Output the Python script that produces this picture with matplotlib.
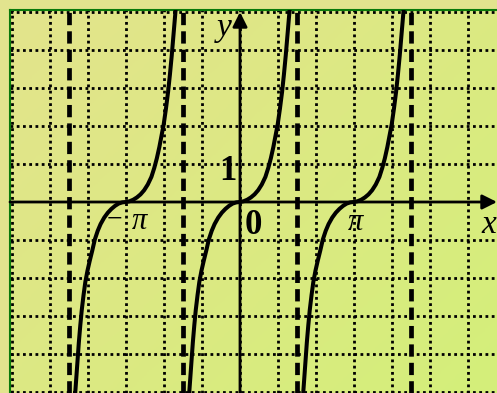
import numpy as np
import matplotlib
matplotlib.use("Agg")
import matplotlib.pyplot as plt
from matplotlib.colors import LinearSegmentedColormap

PI = np.pi

# branches of the curve: centre of each branch and the shape
branch_centers = [-PI, 0.0, PI]
x_offsets = [-1.42, -1.39, -1.36, -1.33, -1.30, -1.26, -1.22, -1.17, -1.12, -1.06,
             -1.00, -0.93, -0.86, -0.78, -0.70, -0.60, -0.50, -0.40, -0.30, -0.20,
             -0.10, 0.00,
             0.10, 0.20, 0.30, 0.40, 0.50, 0.60, 0.70, 0.78, 0.85, 0.92,
             0.98, 1.04, 1.10, 1.16, 1.21, 1.26, 1.30, 1.34, 1.38, 1.40]
y_values = [-5.30, -4.90, -4.50, -4.10, -3.70, -3.25, -2.85, -2.45, -2.10, -1.80,
            -1.55, -1.28, -0.99, -0.76, -0.58, -0.41, -0.28, -0.18, -0.10, -0.04,
            -0.01, 0.00,
            0.02, 0.06, 0.12, 0.20, 0.31, 0.46, 0.66, 0.90, 1.15, 1.45,
            1.75, 2.05, 2.45, 2.90, 3.35, 3.85, 4.30, 4.75, 5.20, 5.45]

asymptotes = [-1.5 * PI, -0.5 * PI, 0.5 * PI, 1.5 * PI]
grid_x = [k * PI / 3 for k in range(-6, 7)]
grid_y = [-5, -4, -3, -2, -1, 1, 2, 3, 4, 5]

# pixel scale of the original picture
sx = 114 / PI   # px per x unit
sy = 38.0       # px per y unit
W, H = 497, 393
x0, y0 = 240, 202  # origin in px
left_px, top_px = 10, 10

def X(px):
    return (px - x0) / sx

def Y(py):
    return (y0 - py) / sy

fig = plt.figure(figsize=(W / 100, H / 100), dpi=100)
fig.patch.set_facecolor("#e2e48e")
ax = fig.add_axes([left_px / W, 0, (W - left_px) / W, (H - top_px) / H])
xmin, xmax = X(left_px), X(W)
ymin, ymax = Y(H), Y(top_px)
ax.set_xlim(xmin, xmax)
ax.set_ylim(ymin, ymax)

# background gradient (yellow top-left -> lime bottom-right)
cmap = LinearSegmentedColormap.from_list("bg", ["#e3e48c", "#dce983", "#d4ef7a"])
gx, gy = np.meshgrid(np.linspace(0, 1, 200), np.linspace(0, 1, 200))
ax.imshow(gx * 0.55 + gy * 0.45, extent=(xmin, xmax, ymin, ymax), origin="upper",
          cmap=cmap, aspect="auto", zorder=0)

for gxv in grid_x:
    ax.axvline(gxv, color="black", lw=2.0, ls=(0, (1, 1.25)), zorder=1)
for gyv in grid_y:
    ax.axhline(gyv, color="black", lw=2.0, ls=(0, (1, 1.25)), zorder=1)

for a in asymptotes:
    ax.axvline(a, color="black", lw=3.4, ls=(0, (2.6, 1.3)), zorder=2)

# axes with arrows
ax.annotate("", xy=(xmax, 0), xytext=(xmin, 0),
            arrowprops=dict(arrowstyle="-|>", lw=2.0, color="black",
                            mutation_scale=22, shrinkA=0, shrinkB=0), zorder=3)
ax.annotate("", xy=(0, Y(12)), xytext=(0, ymin),
            arrowprops=dict(arrowstyle="-|>", lw=2.0, color="black",
                            mutation_scale=22, shrinkA=0, shrinkB=0), zorder=3)

for c in branch_centers:
    ax.plot([c + dx for dx in x_offsets], y_values, color="black", lw=2.9,
            solid_capstyle="round", solid_joinstyle="round", zorder=4)

serif = "Liberation Serif"
ax.text(X(228), Y(180), "1", fontsize=25, fontweight="bold",
        family=serif, ha="center", va="baseline", zorder=5)
ax.text(X(253), Y(234), "0", fontsize=25, fontweight="bold",
        family=serif, ha="center", va="baseline", zorder=5)
ax.text(X(114), Y(227), "\u2212", fontsize=20,
        family=serif, ha="center", va="baseline", zorder=5)
ax.text(X(139), Y(229), "\u03c0", fontsize=22, style="italic",
        family=serif, ha="center", va="baseline", zorder=5)
ax.text(X(355), Y(230), "\u03c0", fontsize=22, style="italic",
        family=serif, ha="center", va="baseline", zorder=5)
ax.text(X(224), Y(36), "y", fontsize=24, style="italic",
        family=serif, ha="center", va="baseline", zorder=5)
ax.text(X(496), Y(233), "x", fontsize=24, style="italic",
        family=serif, ha="right", va="baseline", zorder=5)

for side in ["right", "bottom"]:
    ax.spines[side].set_visible(False)
for side in ["left", "top"]:
    ax.spines[side].set_color("#0a7a0a")
    ax.spines[side].set_linewidth(1.5)
ax.set_xticks([])
ax.set_yticks([])

fig.savefig("out.png", dpi=100)
